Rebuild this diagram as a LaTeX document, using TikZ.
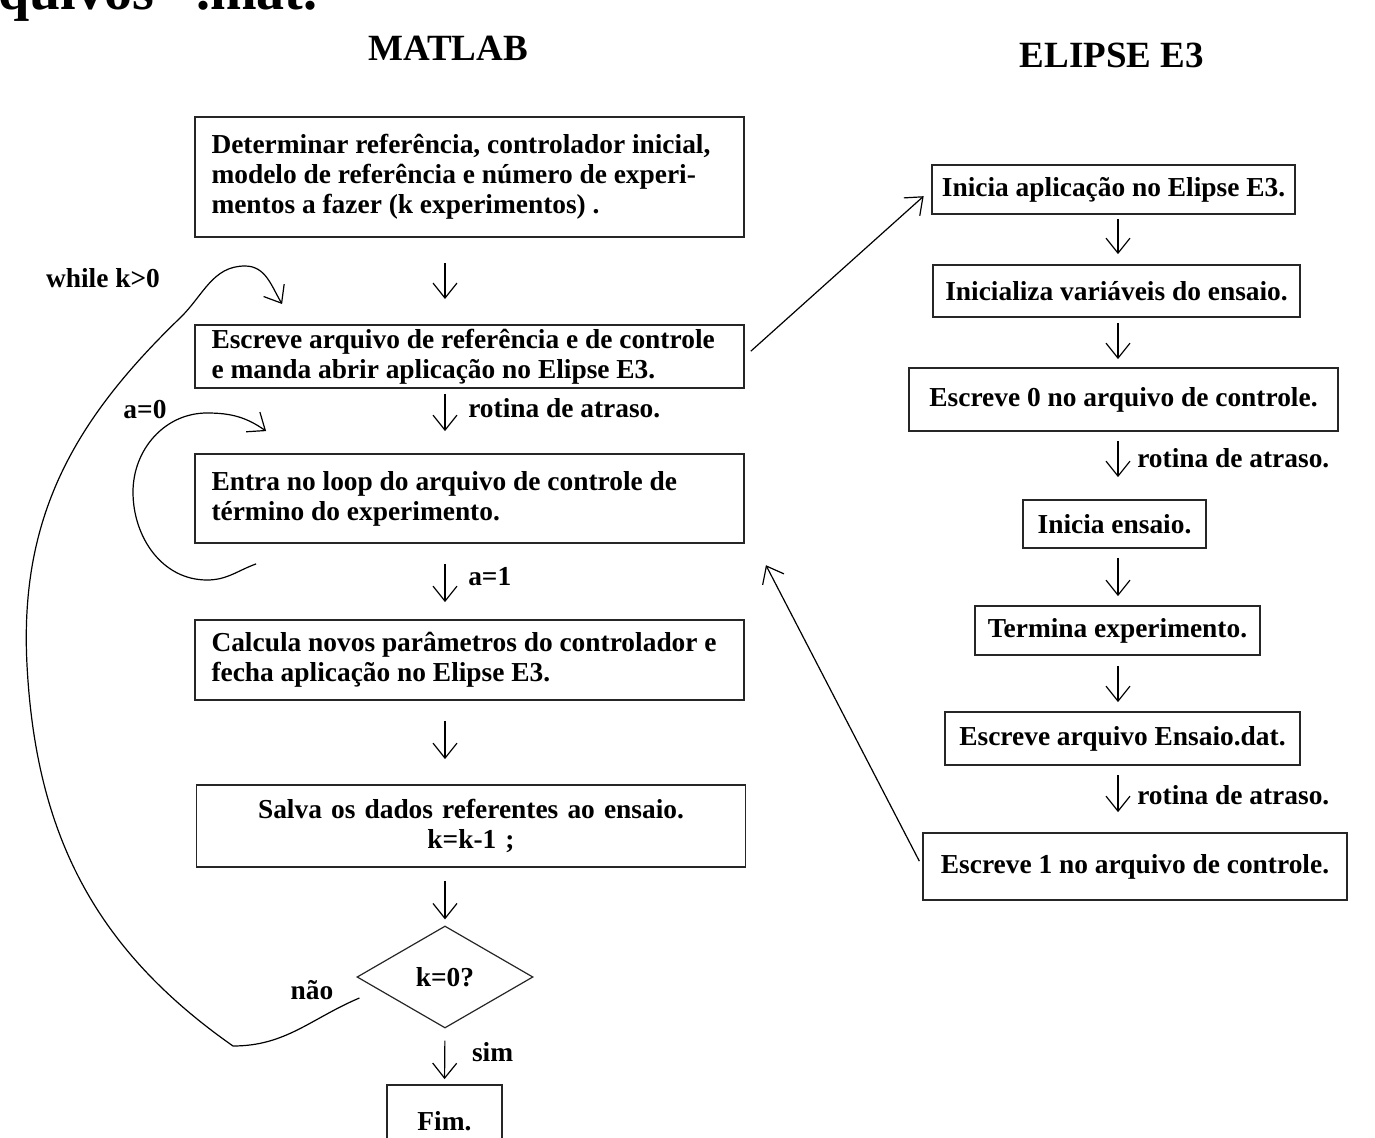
\documentclass[tikz,border=0pt]{standalone}
\usepackage{fontspec}
\setmainfont{Liberation Serif}
\usetikzlibrary{shapes.geometric, arrows.meta}

\begin{document}
\begin{tikzpicture}[
        x=0.5pt, y=-0.5pt,
        block/.style={rectangle, draw=black!85, line width=0.9pt, inner xsep=2pt, inner ysep=2pt, align=center, font=\fontsize{13.7}{15}\selectfont\bfseries},
        wide/.style={block, inner xsep=8.25pt, minimum width=274.5pt, text width=258pt, align=flush left},
        test/.style={diamond, draw=black!85, line width=0.6pt, minimum width=88pt, minimum height=51pt, inner sep=0pt, font=\fontsize{13.7}{15}\selectfont\bfseries},
        title/.style={font=\fontsize{18.5}{20}\selectfont\bfseries},
        lbl/.style={font=\fontsize{13.7}{15}\selectfont\bfseries},
        flow/.style={-{Straight Barb[length=7.5pt, width=12pt]}, line width=0.6pt}
    ]
        \useasboundingbox (0,0) rectangle (1375,1138);
        \clip (0,0) rectangle (1375,1138);

        % Titles
        \node[anchor=base west, inner sep=0pt, font=\fontsize{28}{30}\selectfont\bfseries] (frag) at (-2,10) {quivos “.mat.”};
        \node[title] (mtitle) at (448,48) {MATLAB};
        \node[title] (etitle) at (1112,55) {ELIPSE E3};

        % MATLAB side
        \node[wide, minimum height=60pt] (init) at (469.5,177) {Determinar referência, controlador inicial,\\ modelo de referência e número de experi-\\ mentos a fazer (k experimentos) .};
        \node[wide, minimum height=31.5pt] (write) at (469.5,356.5) {Escreve arquivo de referência e de controle\\ e manda abrir aplicação no Elipse E3.};
        \node[wide, minimum height=44.5pt] (loop) at (469.5,498.5) {Entra no loop do arquivo de controle de\\ término do experimento.};
        \node[wide, minimum height=40pt] (calc) at (469.5,660) {Calcula novos parâmetros do controlador e\\ fecha aplicação no Elipse E3.};
        \node[wide, minimum height=41pt, align=center] (save) at (471,826) {Salva os dados referentes ao ensaio.\\ k=k-1 ;};
        \node[test] (kcheck) at (445,977) {k=0?};
        \node[block, minimum width=57.5pt, minimum height=36pt] (fim) at (444.5,1121) {Fim.};

        % Elipse E3 side
        \coordinate (rcol) at (1118,0);
        \node[block, minimum width=181.5pt, minimum height=24.5pt] (r1) at (1113.5,189.5) {Inicia aplicação no Elipse E3.};
        \node[block, minimum width=183.5pt, minimum height=26pt] (r2) at (1116.5,291) {Inicializa variáveis do ensaio.};
        \node[block, minimum width=214.5pt, minimum height=31.5pt] (r3) at (1123.5,399.5) {Escreve 0 no arquivo de controle.};
        \node[block, minimum width=91.5pt, minimum height=24pt] (r4) at (1114.5,524) {Inicia ensaio.};
        \node[block, minimum width=142.5pt, minimum height=24.5pt] (r5) at (1117.5,630.5) {Termina experimento.};
        \node[block, minimum width=177.5pt, minimum height=26.5pt] (r6) at (1122.5,738.5) {Escreve arquivo Ensaio.dat.};
        \node[block, minimum width=212pt, minimum height=33.5pt] (r7) at (1135,866.5) {Escreve 1 no arquivo de controle.};

        % Loop labels
        \node[lbl] (whilek) at (103,278) {while k>0};
        \node[lbl] (azero) at (145,410) {a=0};
        \node[lbl] (nao) at (312,990) {não};

        % Arrows
        \draw[flow, shorten <=12.5pt, shorten >=12.5pt] (init.south -| kcheck) -- (write.north -| kcheck);
        \draw[flow, shorten <=2.5pt, shorten >=11pt] (write.south -| kcheck) -- node[lbl, right, pos=0.3, xshift=8pt] {rotina de atraso.} (loop.north -| kcheck);
        \draw[flow, shorten <=10pt, shorten >=8.5pt] (loop.south -| kcheck) -- node[lbl, right, pos=0.43, xshift=8pt] {a=1} (calc.north -| kcheck);
        \draw[flow, shorten <=10pt, shorten >=12.5pt] (calc.south -| kcheck) -- (save.north -| kcheck);
        \draw[flow, shorten <=6.5pt, shorten >=3pt] (save.south -| kcheck) -- (kcheck.north);
        \draw[flow, shorten <=6pt, shorten >=2.5pt] (kcheck.south) -- node[lbl, right, pos=0.42, xshift=10pt] {sim} (fim.north);

        \draw[flow, shorten <=2pt, shorten >=5pt] (r1.south -| rcol) -- (r2.north -| rcol);
        \draw[flow, shorten <=2.5pt, shorten >=4pt] (r2.south -| rcol) -- (r3.north -| rcol);
        \draw[flow, shorten <=4.5pt, shorten >=11pt] (r3.south -| rcol) -- node[lbl, right, pos=0.39, xshift=6pt] {rotina de atraso.} (r4.north -| rcol);
        \draw[flow, shorten <=4.5pt, shorten >=4.5pt] (r4.south -| rcol) -- (r5.north -| rcol);
        \draw[flow, shorten <=5pt, shorten >=4.5pt] (r5.south -| rcol) -- (r6.north -| rcol);
        \draw[flow, shorten <=4.5pt, shorten >=10pt] (r6.south -| rcol) -- node[lbl, right, pos=0.44, xshift=6pt] {rotina de atraso.} (r7.north -| rcol);

        \draw[flow, shorten <=4pt, shorten >=5pt] (write.east) -- (r1.west);
        \draw[flow, shorten <=3pt, shorten >=12pt] (r7.west) -- ([xshift=5pt]loop.south east);

        % Loops
        \draw[flow] ([shift={(3,21)}]kcheck.west) to[out=203, in=0] (233,1046) to[out=145, in=-87] (27,665) to[out=93, in=224] (180,318) to[out=44, in=180] (245,266) to[out=0, in=121] ([shift={(88,-20)}]write.north west);
        \draw[flow] ([shift={(62,20)}]loop.south west) to[out=200, in=0] (207,580) to[out=180, in=-90] (133,492) to[out=90, in=180] (207,413) to[out=0, in=145] ([shift={(72,-22)}]loop.north west);

    \end{tikzpicture}
\end{document}
